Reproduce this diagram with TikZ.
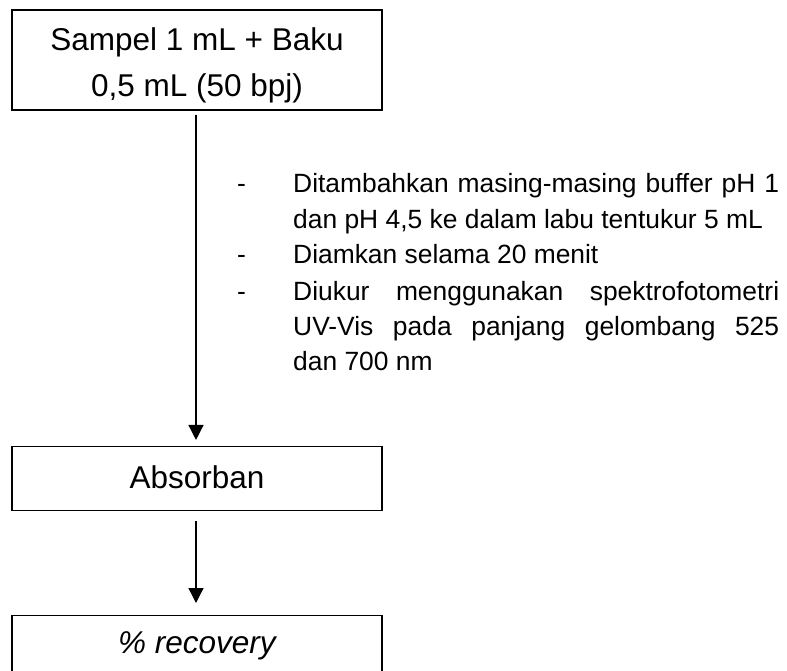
\documentclass[tikz,border=0pt]{standalone}
\usepackage{fontspec}
\setmainfont{Liberation Sans}
\usetikzlibrary{arrows.meta}
\begin{document}
\begin{tikzpicture}[x=1pt,y=1pt,
  box/.style={draw=black, line width=1.1pt, minimum width=370pt, inner sep=0pt},
  boxtext/.style={font=\fontsize{31.5}{46}\selectfont, inner sep=0pt, anchor=base},
  flow/.style={-{Triangle[width=15pt,length=15pt]}, line width=1.4pt},
  note/.style={font=\fontsize{26.4}{35.2}\selectfont, inner sep=0pt, anchor=base west}]
\clip (0,0) rectangle (787,-671);
\fill[white] (0,0) rectangle (787,-671);

% boxes
\node[box, minimum height=100pt] (start) at (197,-60) {};
\node[boxtext] (startA) at (197,-51) {Sampel 1 mL + Baku};
\node[boxtext] (startB) at (197,-97) {0,5 mL (50 bpj)};

\node[box, minimum height=64pt] (abs) at (197,-478.5) {};
\node[boxtext] (absT) at (197,-488) {Absorban};

\node[box, minimum height=100pt, anchor=north] (rec) at (197,-614.5) {};
\node[boxtext] (recT) at (197,-653) {\itshape \% recovery};

% connectors
\draw[flow, shorten <=4pt, shorten >=6pt] ([xshift=-1pt]start.south) -- ([xshift=-1pt]abs.north);
\draw[flow, shorten <=10pt, shorten >=11.5pt] ([xshift=-1pt]abs.south) -- ([xshift=-1pt]rec.north);

% procedure notes
\node[note] (d1) at (237,-193) {-};
\node[note] (n1) at (293,-193) {\parbox[t]{486pt}{\hyphenpenalty=10000
  Ditambahkan masing-masing buffer pH 1\linebreak dan pH 4,5 ke dalam labu tentukur 5 mL}};
\node[note] (d2) at (237,-263) {-};
\node[note] (n2) at (293,-263) {Diamkan selama 20 menit};
\node[note] (d3) at (237,-300) {-};
\node[note] (n3) at (293,-300) {\parbox[t]{486pt}{\hyphenpenalty=10000
  Diukur menggunakan spektrofotometri\linebreak UV-Vis pada panjang gelombang 525\linebreak dan 700 nm}};
\end{tikzpicture}
\end{document}
